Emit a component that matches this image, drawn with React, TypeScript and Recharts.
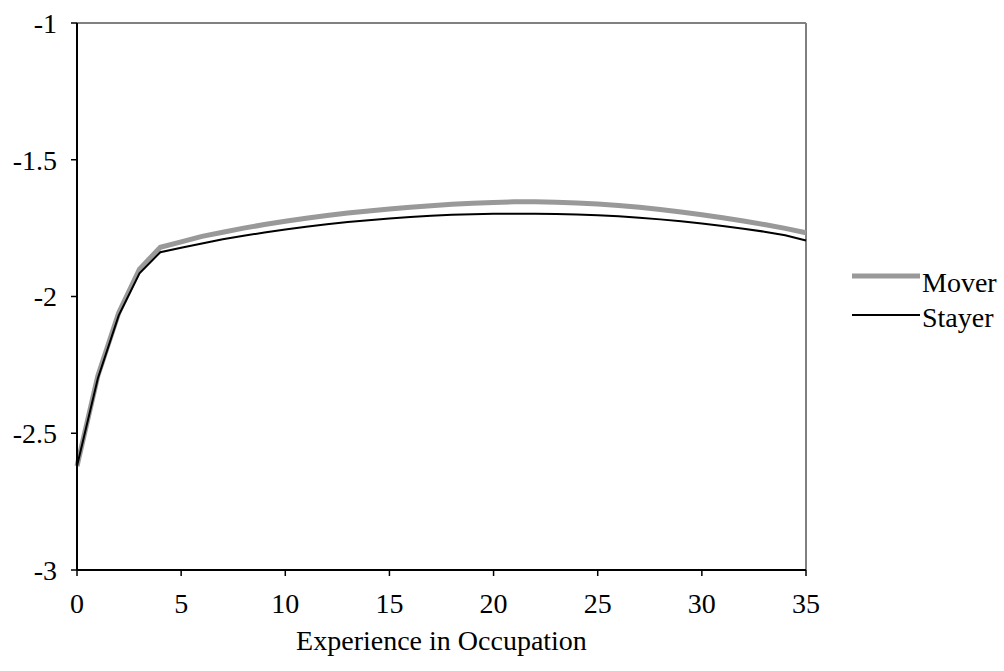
import { LineChart, Line, XAxis, YAxis, ReferenceLine } from 'recharts';

// Experience in occupation (years)
const experience = [
    0, 1, 2, 3, 4, 5, 6, 7, 8, 9, 10, 11, 12, 13, 14, 15, 16, 17,
    18, 19, 20, 21, 22, 23, 24, 25, 26, 27, 28, 29, 30, 31, 32, 33, 34, 35,
];

const mover = [
    -2.62, -2.29, -2.06, -1.9, -1.82, -1.8, -1.78, -1.765, -1.75, -1.737, -1.725, -1.714,
    -1.704, -1.695, -1.687, -1.68, -1.674, -1.668, -1.663, -1.659, -1.656, -1.654, -1.654, -1.655,
    -1.658, -1.662, -1.667, -1.674, -1.682, -1.691, -1.701, -1.712, -1.724, -1.737, -1.751, -1.767,
];

const stayer = [
    -2.62, -2.3, -2.07, -1.915, -1.838, -1.822, -1.806, -1.791, -1.778, -1.766, -1.755, -1.745,
    -1.736, -1.728, -1.721, -1.715, -1.709, -1.705, -1.701, -1.699, -1.697, -1.697, -1.697, -1.698,
    -1.7, -1.703, -1.707, -1.712, -1.718, -1.725, -1.733, -1.742, -1.752, -1.763, -1.776, -1.795,
];

const xTicks = [0, 5, 10, 15, 20, 25, 30, 35];
const yTicks = [-3, -2.5, -2, -1.5, -1];

const data = experience.map((x, i) => ({ x, mover: mover[i], stayer: stayer[i] }));

const FONT = '"Times New Roman", Times, "Liberation Serif", serif';
const tickStyle = { fontFamily: FONT, fontSize: 28, fill: '#000' };

const legendItems = [
    { name: 'Mover', color: '#999999', width: 5, lineY: 26, textY: 42 },
    { name: 'Stayer', color: '#000000', width: 2, lineY: 65, textY: 77 },
];

// legend sits to the right of the plot, outside the chart's layout
function ChartLegend() {
    return (
        <svg width={164} height={90} style={{ position: 'absolute', left: 840, top: 250 }}>
            {legendItems.map((item) => (
                <g key={item.name}>
                    <line x1={12} y1={item.lineY} x2={80} y2={item.lineY} stroke={item.color} strokeWidth={item.width} />
                    <text x={82} y={item.textY} fontFamily={FONT} fontSize={28} fill="#000">
                        {item.name}
                    </text>
                </g>
            ))}
        </svg>
    );
}

export default function App() {
    return (
        <div style={{ position: 'absolute', left: 0, top: 0, width: 1004, height: 671, background: '#fff' }}>
            <LineChart
                width={1004}
                height={671}
                data={data}
                margin={{ top: 23, right: 198, left: 17, bottom: 11 }}
            >
                <XAxis
                    dataKey="x"
                    type="number"
                    domain={[0, 35]}
                    ticks={xTicks}
                    interval={0}
                    height={90}
                    tick={tickStyle}
                    tickSize={6}
                    tickMargin={17}
                    axisLine={{ stroke: '#000', strokeWidth: 2 }}
                    tickLine={{ stroke: '#000', strokeWidth: 1.5 }}
                    label={{
                        value: 'Experience in Occupation',
                        position: 'insideBottom',
                        offset: 10,
                        style: { fontFamily: FONT, fontSize: 28, fill: '#000' },
                    }}
                />
                <YAxis
                    type="number"
                    domain={[-3, -1]}
                    ticks={yTicks}
                    interval={0}
                    width={60}
                    tick={tickStyle}
                    tickSize={6}
                    tickMargin={14}
                    axisLine={{ stroke: '#000', strokeWidth: 2 }}
                    tickLine={{ stroke: '#000', strokeWidth: 1.5 }}
                />
                <ReferenceLine y={-1} stroke="#808080" strokeWidth={2} />
                <ReferenceLine x={35} stroke="#808080" strokeWidth={2} />
                <Line
                    type="linear"
                    dataKey="mover"
                    stroke="#999999"
                    strokeWidth={5}
                    dot={false}
                    isAnimationActive={false}
                />
                <Line
                    type="linear"
                    dataKey="stayer"
                    stroke="#000000"
                    strokeWidth={2}
                    dot={false}
                    isAnimationActive={false}
                />
            </LineChart>
            <ChartLegend />
        </div>
    );
}
